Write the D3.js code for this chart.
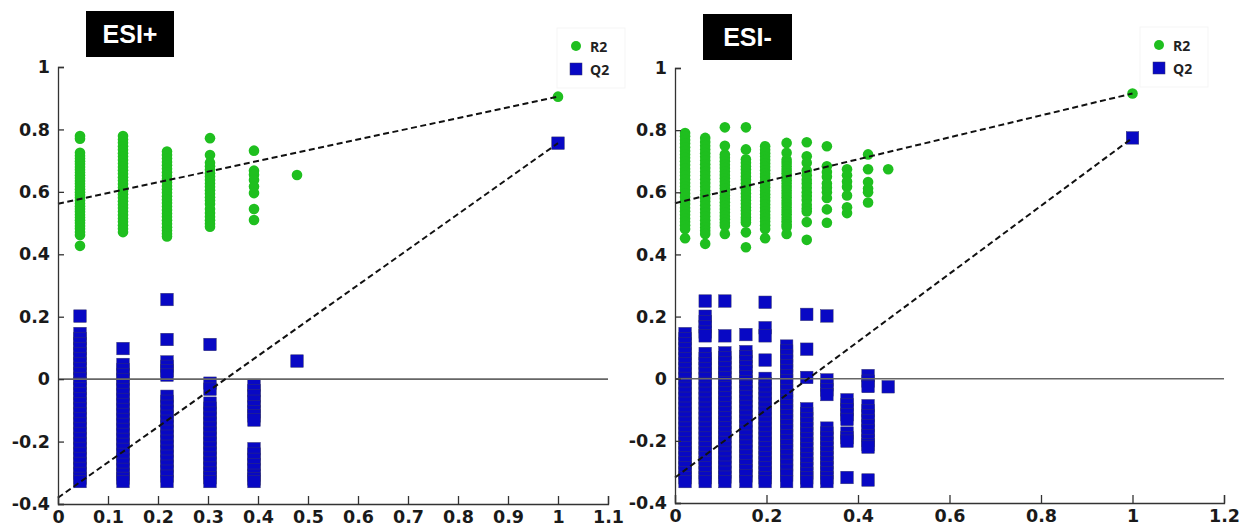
<!DOCTYPE html>
<html><head><meta charset="utf-8">
<script src="https://cdn.jsdelivr.net/npm/d3@7"></script>
<style>body{margin:0;background:#fff}svg{display:block}</style>
</head><body>
<svg id="c" width="1241" height="530"></svg>
<script>
// ---------- DATA: ESI+ ----------
const posColX = [0.044, 0.13, 0.218, 0.304, 0.392, 0.478, 1.0];
const posR2 = [
  [0.779,0.770,0.725,0.716,0.707,0.698,0.689,0.680,0.671,0.662,0.653,0.644,0.635,0.626,0.617,0.608,0.599,0.590,0.581,0.572,0.563,0.554,0.545,0.536,0.527,0.518,0.509,0.500,0.491,0.482,0.471,0.462,0.427],
  [0.779,0.768,0.757,0.746,0.735,0.724,0.713,0.702,0.691,0.680,0.669,0.658,0.647,0.636,0.625,0.614,0.603,0.592,0.581,0.570,0.559,0.548,0.537,0.526,0.515,0.504,0.493,0.482,0.471],
  [0.729,0.718,0.707,0.696,0.685,0.674,0.663,0.652,0.641,0.630,0.619,0.608,0.597,0.586,0.575,0.564,0.553,0.542,0.531,0.520,0.509,0.498,0.487,0.476,0.466,0.457],
  [0.772,0.718,0.693,0.682,0.671,0.660,0.649,0.638,0.627,0.616,0.605,0.594,0.583,0.572,0.561,0.545,0.532,0.520,0.509,0.498,0.488],
  [0.732,0.668,0.655,0.638,0.617,0.596,0.545,0.510],
  [0.654],
  [0.905]
];
const posQ2 = [
  [0.202,0.146,0.130,0.114,0.098,0.082,0.066,0.050,0.034,0.018,0.002,-0.014,-0.030,-0.046,-0.062,-0.078,-0.094,-0.110,-0.126,-0.142,-0.158,-0.174,-0.190,-0.206,-0.222,-0.238,-0.254,-0.270,-0.286,-0.302,-0.318,-0.328],
  [0.098,0.047,0.031,0.015,-0.001,-0.017,-0.033,-0.049,-0.065,-0.081,-0.097,-0.113,-0.129,-0.145,-0.161,-0.177,-0.193,-0.209,-0.225,-0.241,-0.257,-0.273,-0.289,-0.305,-0.318,-0.328],
  [0.255,0.127,0.055,0.041,0.027,0.013,-0.055,-0.071,-0.087,-0.103,-0.119,-0.135,-0.151,-0.167,-0.183,-0.199,-0.215,-0.231,-0.247,-0.263,-0.279,-0.295,-0.311,-0.328],
  [0.111,-0.013,-0.032,-0.077,-0.093,-0.109,-0.125,-0.141,-0.157,-0.173,-0.189,-0.205,-0.221,-0.237,-0.253,-0.269,-0.285,-0.301,-0.316,-0.328],
  [-0.020,-0.037,-0.054,-0.071,-0.088,-0.105,-0.118,-0.131,-0.223,-0.240,-0.257,-0.274,-0.291,-0.308,-0.320,-0.328],
  [0.058],
  [0.756]
];
const posR2Line = [0.562, 0.905];   // values at x=0 and x=1
const posQ2Line = [-0.380, 0.756];
const posXTicks = [0,0.1,0.2,0.3,0.4,0.5,0.6,0.7,0.8,0.9,1,1.1];

// ---------- DATA: ESI- ----------
const negColX = [0.022,0.066,0.109,0.155,0.197,0.244,0.288,0.332,0.376,0.422,0.466,1.0];
const negR2 = [
  [0.791,0.780,0.768,0.757,0.745,0.733,0.722,0.711,0.700,0.688,0.676,0.665,0.654,0.642,0.630,0.619,0.608,0.596,0.585,0.573,0.562,0.550,0.539,0.528,0.516,0.505,0.494,0.482,0.452],
  [0.775,0.762,0.750,0.738,0.726,0.714,0.702,0.690,0.678,0.666,0.654,0.642,0.630,0.618,0.606,0.594,0.582,0.570,0.558,0.546,0.534,0.522,0.510,0.498,0.487,0.476,0.466,0.434],
  [0.809,0.750,0.722,0.711,0.700,0.689,0.678,0.667,0.656,0.645,0.634,0.623,0.612,0.601,0.590,0.579,0.568,0.557,0.546,0.535,0.524,0.513,0.502,0.492,0.466],
  [0.809,0.738,0.706,0.695,0.684,0.673,0.662,0.651,0.640,0.629,0.618,0.607,0.596,0.585,0.574,0.563,0.552,0.541,0.530,0.519,0.511,0.503,0.471,0.423],
  [0.748,0.737,0.726,0.715,0.704,0.693,0.682,0.671,0.660,0.649,0.638,0.627,0.616,0.605,0.594,0.583,0.572,0.561,0.550,0.539,0.528,0.517,0.506,0.494,0.482,0.452],
  [0.759,0.727,0.705,0.694,0.683,0.672,0.661,0.650,0.639,0.628,0.617,0.606,0.595,0.584,0.573,0.562,0.551,0.540,0.529,0.518,0.507,0.496,0.488,0.466],
  [0.761,0.716,0.695,0.670,0.655,0.640,0.628,0.615,0.600,0.588,0.575,0.560,0.548,0.538,0.504,0.447],
  [0.748,0.684,0.665,0.650,0.628,0.615,0.600,0.582,0.545,0.502],
  [0.674,0.655,0.635,0.618,0.590,0.552,0.533],
  [0.722,0.674,0.633,0.612,0.600,0.567],
  [0.674],
  [0.918]
];
const negQ2 = [
  [0.145,0.129,0.113,0.097,0.081,0.065,0.049,0.033,0.017,0.001,-0.015,-0.031,-0.047,-0.063,-0.079,-0.095,-0.111,-0.127,-0.143,-0.159,-0.175,-0.191,-0.207,-0.223,-0.239,-0.255,-0.271,-0.287,-0.303,-0.319,-0.331],
  [0.250,0.201,0.184,0.167,0.150,0.138,0.081,0.065,0.049,0.033,0.017,0.001,-0.015,-0.031,-0.047,-0.063,-0.079,-0.095,-0.111,-0.127,-0.143,-0.159,-0.175,-0.191,-0.207,-0.223,-0.239,-0.255,-0.271,-0.287,-0.303,-0.319,-0.331],
  [0.250,0.138,0.083,0.067,0.051,0.035,0.019,0.003,-0.013,-0.029,-0.045,-0.061,-0.077,-0.093,-0.109,-0.125,-0.141,-0.157,-0.173,-0.189,-0.205,-0.221,-0.237,-0.253,-0.269,-0.285,-0.301,-0.317,-0.331],
  [0.142,0.087,0.071,0.055,0.039,0.023,0.007,-0.009,-0.025,-0.041,-0.057,-0.073,-0.089,-0.105,-0.121,-0.137,-0.153,-0.169,-0.185,-0.201,-0.217,-0.233,-0.249,-0.265,-0.281,-0.297,-0.313,-0.331],
  [0.246,0.164,0.138,0.060,0.001,-0.015,-0.031,-0.047,-0.063,-0.079,-0.095,-0.111,-0.127,-0.143,-0.159,-0.175,-0.191,-0.207,-0.223,-0.239,-0.255,-0.271,-0.287,-0.303,-0.319,-0.331],
  [0.105,0.089,0.073,0.057,0.041,0.025,0.009,-0.007,-0.023,-0.039,-0.055,-0.071,-0.087,-0.103,-0.119,-0.135,-0.151,-0.167,-0.183,-0.199,-0.215,-0.231,-0.247,-0.263,-0.279,-0.295,-0.311,-0.331],
  [0.207,0.095,0.004,-0.097,-0.113,-0.129,-0.145,-0.161,-0.177,-0.193,-0.209,-0.225,-0.241,-0.257,-0.273,-0.289,-0.305,-0.319,-0.331],
  [0.202,-0.004,-0.020,-0.036,-0.051,-0.159,-0.175,-0.191,-0.207,-0.223,-0.239,-0.255,-0.271,-0.287,-0.303,-0.319,-0.331],
  [-0.068,-0.084,-0.100,-0.116,-0.131,-0.175,-0.190,-0.201,-0.318],
  [0.010,-0.008,-0.025,-0.087,-0.103,-0.119,-0.135,-0.151,-0.167,-0.183,-0.199,-0.212,-0.220,-0.326],
  [-0.026],
  [0.775]
];
const negR2Line = [0.565, 0.918];
const negQ2Line = [-0.318, 0.775];
const negXTicks = [0,0.2,0.4,0.6,0.8,1,1.2];

const yTicks = [1,0.8,0.6,0.4,0.2,0,-0.2,-0.4];
const legendLabels = ["R2","Q2"];
const lineX = [0, 1];

// ---------- DRAW ----------
const svg = d3.select("#c");
const GREEN = "#1fbf1f", BLUE = "#0808c4";
const fmt = d => String(+d.toFixed(1));

function panel(cfg){
  const x = d3.scaleLinear().domain(cfg.xDomain).range(cfg.xRange);
  const y = d3.scaleLinear().domain([-0.4, 1]).range(cfg.yRange);
  const g = svg.append("g");

  // R2 circles
  const r2pts = cfg.colX.flatMap((cx,i)=>cfg.r2[i].map(v=>({x:cx,y:v})));
  g.append("g").selectAll("circle").data(r2pts).join("circle")
    .attr("cx", d=>x(d.x)).attr("cy", d=>y(d.y)).attr("r", 5.3)
    .attr("fill", GREEN);

  // Q2 squares
  const q2pts = cfg.colX.flatMap((cx,i)=>cfg.q2[i].map(v=>({x:cx,y:v})));
  const s = 12.5;
  g.append("g").selectAll("rect").data(q2pts).join("rect")
    .attr("x", d=>x(d.x)-s/2).attr("y", d=>y(d.y)-s/2)
    .attr("width", s).attr("height", s)
    .attr("fill", BLUE).attr("stroke", "#33336e").attr("stroke-width", 0.5);

  // zero line
  g.append("line").attr("x1", x(cfg.xDomain[0])).attr("x2", x(cfg.xDomain[1]))
    .attr("y1", y(0)).attr("y2", y(0)).attr("stroke", "#666").attr("stroke-width", 1.6);

  // regression dashed lines
  const ln = d3.line().x(d=>x(d[0])).y(d=>y(d[1]));
  [cfg.r2Line, cfg.q2Line].forEach(L=>{
    g.append("path").attr("d", ln(lineX.map((xx,i)=>[xx, L[i]])))
      .attr("fill","none").attr("stroke","#111").attr("stroke-width",2)
      .attr("stroke-dasharray","6,3.5");
  });

  // axes
  const yAxis = d3.axisLeft(y).tickValues(yTicks).tickSize(-6).tickPadding(8).tickFormat(fmt);
  const ya = g.append("g").attr("transform",`translate(${x(0)},0)`).call(yAxis);
  const xAxis = d3.axisBottom(x).tickValues(cfg.xTicks).tickSize(-8).tickPadding(5).tickFormat(fmt);
  const xa = g.append("g").attr("transform",`translate(0,${y(-0.4)})`).call(xAxis);
  [ya, xa].forEach(a=>{
    a.select(".domain").attr("stroke","#333").attr("stroke-width",1.3);
    a.selectAll(".tick line").attr("stroke","#333").attr("stroke-width",1.3);
    a.selectAll(".tick text").attr("fill","#1a1a1a")
      .style("font-family","'DejaVu Sans', Verdana, sans-serif")
      .style("font-weight","bold").style("font-size","17.5px");
  });
  xa.selectAll(".tick text").attr("dy","0.82em");

  // legend
  const lg = g.append("g").attr("transform",`translate(${cfg.legend[0]},${cfg.legend[1]})`);
  lg.append("rect").attr("x",-19).attr("y",-18).attr("width",68).attr("height",60)
    .attr("fill","none").attr("stroke","#f5f5f5").attr("stroke-width",1);
  lg.append("circle").attr("cx",0).attr("cy",0).attr("r",5).attr("fill",GREEN);
  lg.append("rect").attr("x",-6).attr("y",17).attr("width",12).attr("height",12)
    .attr("fill",BLUE).attr("stroke","#33336e").attr("stroke-width",0.5);
  lg.selectAll("text").data(legendLabels).join("text")
    .attr("x",14).attr("y",(d,i)=>i*23+5.5).text(d=>d)
    .attr("fill","#222").style("font-family","'Open Sans', sans-serif")
    .style("font-weight","700").style("font-size","14px");

  // title box
  const t = g.append("g");
  t.append("rect").attr("x",cfg.title[0]).attr("y",cfg.title[1]).attr("width",cfg.title[2]).attr("height",46)
    .attr("fill","#000");
  t.append("text").attr("x",cfg.title[0]+cfg.title[2]/2).attr("y",cfg.title[1]+32)
    .attr("text-anchor","middle").attr("fill","#fff")
    .style("font-family","'Liberation Sans', Arial, sans-serif").style("font-weight","bold")
    .style("font-size","25px").text(cfg.name);
}

panel({name:"ESI+", colX:posColX, r2:posR2, q2:posQ2, r2Line:posR2Line, q2Line:posQ2Line,
  xDomain:[0,1.1], xRange:[58,608], yRange:[504,67], xTicks:posXTicks,
  legend:[576,46], title:[86,11,88]});
panel({name:"ESI-", colX:negColX, r2:negR2, q2:negQ2, r2Line:negR2Line, q2Line:negQ2Line,
  xDomain:[0,1.2], xRange:[675,1224], yRange:[503,68], xTicks:negXTicks,
  legend:[1159,45], title:[703,14,89]});
</script>
</body></html>
